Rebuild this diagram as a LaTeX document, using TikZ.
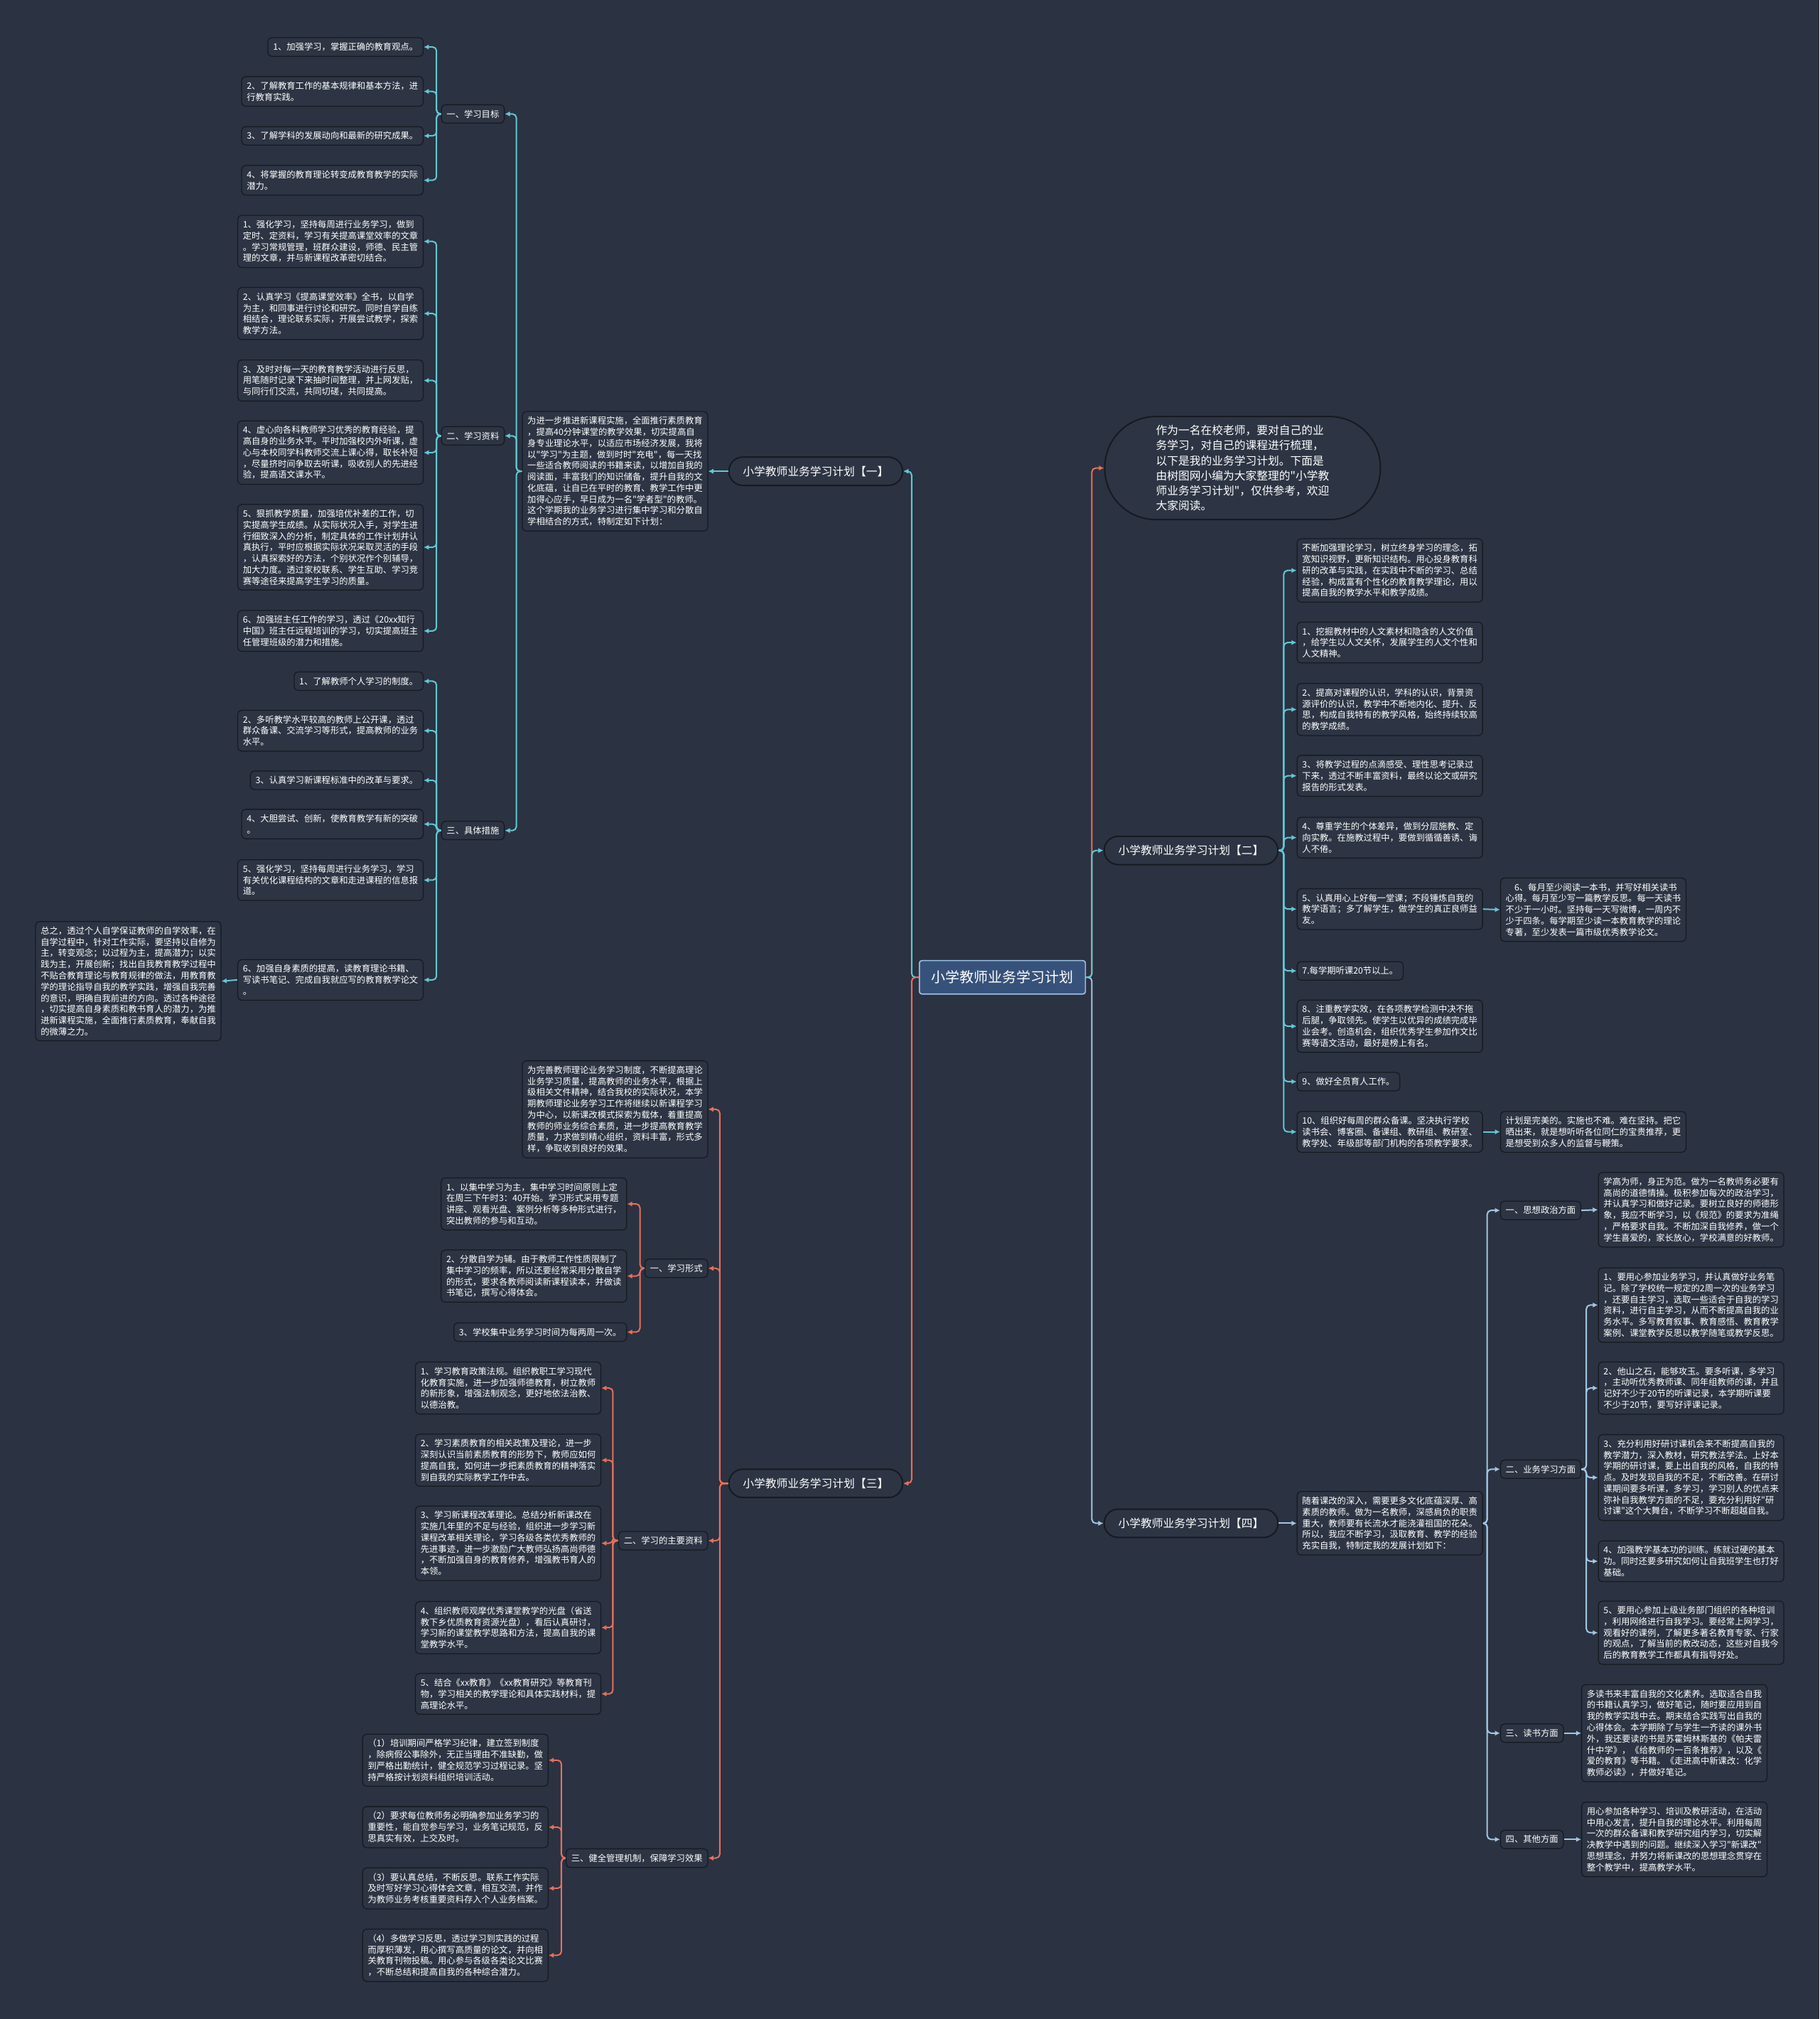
\documentclass[tikz,border=0pt]{standalone}
\usepackage{fontspec}
\setmainfont{Noto Sans CJK SC}[Ligatures=TeXOff]
\usetikzlibrary{arrows.meta}
\definecolor{bg}{HTML}{2B3241}
\definecolor{boxf}{HTML}{2D3544}
\definecolor{bord}{HTML}{161A21}
\definecolor{cyanc}{HTML}{62C8D6}
\definecolor{redc}{HTML}{E6705C}
\definecolor{lbluec}{HTML}{A3C6E4}
\definecolor{ctrf}{HTML}{37527A}
\definecolor{ctrb}{HTML}{9CC2E6}
\tikzset{
 box/.style={draw=bord, fill=boxf, line width=0.7pt, rounded corners=3pt, inner xsep=4pt, inner ysep=4pt, align=left, text=white, font=\fontsize{6.8}{8.7}\selectfont},
 lbox/.style={box, anchor=east},
 rbox/.style={box, anchor=west},
 pill/.style={draw=bord, fill=boxf, line width=1.1pt, rounded corners=11pt, minimum width=135pt, minimum height=22pt, text=white, font=\fontsize{8.7}{10}\selectfont},
 ell/.style={draw=bord, fill=boxf, line width=1.1pt, rounded corners=39.5pt, minimum width=214pt, minimum height=80pt, align=left, text=white, font=\fontsize{8.7}{11.7}\selectfont},
 ctr/.style={draw=ctrb, fill=ctrf, line width=0.9pt, rounded corners=2pt, minimum width=129pt, minimum height=26pt, text=white, font=\fontsize{11}{13}\selectfont},
 conn/.style={line width=1.1pt, rounded corners=3pt, -{Latex[length=4pt,width=4pt]}},
 cy/.style={conn, draw=cyanc},
 rd/.style={conn, draw=redc},
 lb/.style={conn, draw=lbluec}
}
\begin{document}
\begin{tikzpicture}[x=1pt,y=-1pt]
\fill[bg] (0,0) rectangle (1413,1568);
\useasboundingbox (0,0) rectangle (1413,1568);

% ---------- centre ----------
\node[ctr] (ctr) at (778.5,759) {小学教师业务学习计划};
\node[pill] (p1) at (633.5,366) {小学教师业务学习计划【一】};
\node[pill] (p3) at (633.5,1152) {小学教师业务学习计划【三】};
\node[pill] (p2) at (925,660.5) {小学教师业务学习计划【二】};
\node[pill] (p4) at (925,1183) {小学教师业务学习计划【四】};
\node[ell] (ell) at (965,363.5) {作为一名在校老师，要对自己的业\\务学习，对自己的课程进行梳理，\\以下是我的业务学习计划。下面是\\由树图网小编为大家整理的"小学教\\师业务学习计划"，仅供参考，欢迎\\大家阅读。};

% ---------- plan 1 ----------
\node[lbox] (p1i) at (550,366) {为进一步推进新课程实施，全面推行素质教育\\，提高40分钟课堂的教学效果，切实提高自\\身专业理论水平，以适应市场经济发展，我将\\以"学习"为主题，做到时时"充电"，每一天找\\一些适合教师阅读的书籍来读，以增加自我的\\阅读面，丰富我们的知识储备，提升自我的文\\化底蕴，让自已在平时的教育、教学工作中更\\加得心应手，早日成为一名"学者型"的教师。\\这个学期我的业务学习进行集中学习和分散自\\学相结合的方式，特制定如下计划：};
\node[lbox] (s11) at (392,88.5) {一、学习目标};
\node[lbox] (s12) at (392,338.5) {二、学习资料};
\node[lbox] (s13) at (392,645) {三、具体措施};

\node[lbox] (a1) at (329,36.5) {1、加强学习，掌握正确的教育观点。};
\node[lbox] (a2) at (329,71) {2、了解教育工作的基本规律和基本方法，进\\行教育实践。};
\node[lbox] (a3) at (329,105.5) {3、了解学科的发展动向和最新的研究成果。};
\node[lbox] (a4) at (329,140) {4、将掌握的教育理论转变成教育教学的实际\\潜力。};

\node[lbox] (b1) at (329,187.5) {1、强化学习，坚持每周进行业务学习，做到\\定时、定资料，学习有关提高课堂效率的文章\\。学习常规管理，班群众建设，师德、民主管\\理的文章，并与新课程改革密切结合。};
\node[lbox] (b2) at (329,243.5) {2、认真学习《提高课堂效率》全书，以自学\\为主，和同事进行讨论和研究。同时自学自练\\相结合，理论联系实际，开展尝试教学，探索\\教学方法。};
\node[lbox] (b3) at (329,295.5) {3、及时对每一天的教育教学活动进行反思，\\用笔随时记录下来抽时间整理，并上网发贴，\\与同行们交流，共同切磋，共同提高。};
\node[lbox] (b4) at (329,351.5) {4、虚心向各科教师学习优秀的教育经验，提\\高自身的业务水平。平时加强校内外听课，虚\\心与本校同学科教师交流上课心得，取长补短\\，尽量挤时间争取去听课，吸收别人的先进经\\验，提高语文课水平。};
\node[lbox] (b5) at (329,425) {5、狠抓教学质量，加强培优补差的工作，切\\实提高学生成绩。从实际状况入手，对学生进\\行细致深入的分析，制定具体的工作计划并认\\真执行，平时应根据实际状况采取灵活的手段\\，认真探索好的方法，个别状况作个别辅导，\\加大力度。透过家校联系、学生互助、学习竞\\赛等途径来提高学生学习的质量。};
\node[lbox] (b6) at (329,490) {6、加强班主任工作的学习，透过《20xx知行\\中国》班主任远程培训的学习，切实提高班主\\任管理班级的潜力和措施。};

\node[lbox] (c1) at (329,529) {1、了解教师个人学习的制度。};
\node[lbox] (c2) at (329,567.5) {2、多听教学水平较高的教师上公开课，透过\\群众备课、交流学习等形式，提高教师的业务\\水平。};
\node[lbox] (c3) at (329,606) {3、认真学习新课程标准中的改革与要求。};
\node[lbox] (c4) at (329,640) {4、大胆尝试、创新，使教育教学有新的突破\\。};
\node[lbox] (c5) at (329,683.5) {5、强化学习，坚持每周进行业务学习，学习\\有关优化课程结构的文章和走进课程的信息报\\道。};
\node[lbox] (c6) at (329,761) {6、加强自身素质的提高，读教育理论书籍、\\写读书笔记、完成自我就应写的教育教学论文\\。};
\node[lbox] (sum) at (172,762) {总之，透过个人自学保证教师的自学效率，在\\自学过程中，针对工作实际，要坚持以自修为\\主，转变观念；以过程为主，提高潜力；以实\\践为主，开展创新；找出自我教育教学过程中\\不贴合教育理论与教育规律的做法，用教育教\\学的理论指导自我的教学实践，增强自我完善\\的意识，明确自我前进的方向。透过各种途径\\，切实提高自身素质和教书育人的潜力，为推\\进新课程实施，全面推行素质教育，奉献自我\\的微薄之力。};

% ---------- plan 3 ----------
\node[lbox] (p3i) at (550,861.5) {为完善教师理论业务学习制度，不断提高理论\\业务学习质量，提高教师的业务水平，根据上\\级相关文件精神，结合我校的实际状况，本学\\期教师理论业务学习工作将继续以新课程学习\\为中心，以新课改模式探索为载体，着重提高\\教师的师业务综合素质，进一步提高教育教学\\质量，力求做到精心组织，资料丰富，形式多\\样，争取收到良好的效果。};
\node[lbox] (s31) at (550,985) {一、学习形式};
\node[lbox] (s32) at (550,1196.5) {二、学习的主要资料};
\node[lbox] (s33) at (550,1443) {三、健全管理机制，保障学习效果};

\node[lbox] (d1) at (487,935) {1、以集中学习为主，集中学习时间原则上定\\在周三下午时3：40开始。学习形式采用专题\\讲座、观看光盘、案例分析等多种形式进行，\\突出教师的参与和互动。};
\node[lbox] (d2) at (487,991) {2、分散自学为辅。由于教师工作性质限制了\\集中学习的频率，所以还要经常采用分散自学\\的形式，要求各教师阅读新课程读本，并做读\\书笔记，撰写心得体会。};
\node[lbox] (d3) at (487,1034.5) {3、学校集中业务学习时间为每两周一次。};

\node[lbox] (e1) at (467,1078) {1、学习教育政策法规。组织教职工学习现代\\化教育实施，进一步加强师德教育，树立教师\\的新形象，增强法制观念，更好地依法治教、\\以德治教。};
\node[lbox] (e2) at (467,1134) {2、学习素质教育的相关政策及理论，进一步\\深刻认识当前素质教育的形势下，教师应如何\\提高自我，如何进一步把素质教育的精神落实\\到自我的实际教学工作中去。};
\node[lbox] (e3) at (467,1198.5) {3、学习新课程改革理论。总结分析新课改在\\实施几年里的不足与经验，组织进一步学习新\\课程改革相关理论，学习各级各类优秀教师的\\先进事迹，进一步激励广大教师弘扬高尚师德\\，不断加强自身的教育修养，增强教书育人的\\本领。};
\node[lbox] (e4) at (467,1264) {4、组织教师观摩优秀课堂教学的光盘（省送\\教下乡优质教育资源光盘），看后认真研讨，\\学习新的课堂教学思路和方法，提高自我的课\\堂教学水平。};
\node[lbox] (e5) at (467,1315.5) {5、结合《xx教育》《xx教育研究》等教育刊\\物，学习相关的教学理论和具体实践材料，提\\高理论水平。};

\node[lbox] (f1) at (426,1367) {（1）培训期间严格学习纪律，建立签到制度\\，除病假公事除外，无正当理由不准缺勤，做\\到严格出勤统计，健全规范学习过程记录。坚\\持严格按计划资料组织培训活动。};
\node[lbox] (f2) at (426,1419) {（2）要求每位教师务必明确参加业务学习的\\重要性，能自觉参与学习，业务笔记规范，反\\思真实有效，上交及时。};
\node[lbox] (f3) at (426,1466.5) {（3）要认真总结，不断反思。联系工作实际\\及时写好学习心得体会文章，相互交流，并作\\为教师业务考核重要资料存入个人业务档案。};
\node[lbox] (f4) at (426,1518.5) {（4）多做学习反思，透过学习到实践的过程\\而厚积薄发，用心撰写高质量的论文，并向相\\关教育刊物投稿。用心参与各级各类论文比赛\\，不断总结和提高自我的各种综合潜力。};

% ---------- plan 2 ----------
\node[rbox] (ga) at (1007,443) {不断加强理论学习，树立终身学习的理念，拓\\宽知识视野，更新知识结构。用心投身教育科\\研的改革与实践，在实践中不断的学习、总结\\经验，构成富有个性化的教育教学理论，用以\\提高自我的教学水平和教学成绩。};
\node[rbox] (gb) at (1007,499) {1、挖掘教材中的人文素材和隐含的人文价值\\，给学生以人文关怀，发展学生的人文个性和\\人文精神。};
\node[rbox] (gc) at (1007,551) {2、提高对课程的认识，学科的认识，背景资\\源评价的认识，教学中不断地内化、提升、反\\思，构成自我特有的教学风格，始终持续较高\\的教学成绩。};
\node[rbox] (gd) at (1007,602.5) {3、将教学过程的点滴感受、理性思考记录过\\下来，透过不断丰富资料，最终以论文或研究\\报告的形式发表。};
\node[rbox] (ge) at (1007,650.5) {4、尊重学生的个体差异，做到分层施教、定\\向实教。在施教过程中，要做到循循善诱、诲\\人不倦。};
\node[rbox] (gf) at (1007,706) {5、认真用心上好每一堂课；不段锤炼自我的\\教学语言；多了解学生，做学生的真正良师益\\友。};
\node[rbox] (gg) at (1007,754) {7.每学期听课20节以上。};
\node[rbox] (gh) at (1007,797) {8、注重教学实效，在各项教学检测中决不拖\\后腿，争取领先。使学生以优异的成绩完成毕\\业会考。创造机会，组织优秀学生参加作文比\\赛等语文活动，最好是榜上有名。};
\node[rbox] (gi) at (1007,840) {9、做好全员育人工作。};
\node[rbox] (gj) at (1007,879) {10、组织好每周的群众备课。坚决执行学校\\读书会、博客圈、备课组、教研组、教研室、\\教学处、年级部等部门机构的各项教学要求。};
\node[rbox] (g6) at (1165,706.5) {\hspace*{1em}6、每月至少阅读一本书，并写好相关读书\\心得。每月至少写一篇教学反思。每一天读书\\不少于一小时。坚持每一天写微博，一周内不\\少于四条。每学期至少读一本教育教学的理论\\专著，至少发表一篇市级优秀教学论文。};
\node[rbox] (gk) at (1165,879) {计划是完美的。实施也不难。难在坚持。把它\\晒出来，就是想听听各位同仁的宝贵推荐，更\\是想受到众多人的监督与鞭策。};

% ---------- plan 4 ----------
\node[rbox] (p4i) at (1007,1183) {随着课改的深入，需要更多文化底蕴深厚、高\\素质的教师。做为一名教师，深感肩负的职责\\重大，教师要有长流水才能浇灌祖国的花朵。\\所以，我应不断学习，汲取教育、教学的经验\\充实自我，特制定我的发展计划如下：};
\node[rbox] (s41) at (1165,940) {一、思想政治方面};
\node[rbox] (s42) at (1165,1141) {二、业务学习方面};
\node[rbox] (s43) at (1165,1346) {三、读书方面};
\node[rbox] (s44) at (1165,1428.5) {四、其他方面};
\node[rbox] (h1) at (1241,939.5) {学高为师，身正为范。做为一名教师务必要有\\高尚的道德情操。极积参加每次的政治学习，\\并认真学习和做好记录。要树立良好的师德形\\象，我应不断学习，以《规范》的要求为准绳\\，严格要求自我。不断加深自我修养，做一个\\学生喜爱的，家长放心，学校满意的好教师。};
\node[rbox] (k1) at (1241,1013.5) {1、要用心参加业务学习，并认真做好业务笔\\记。除了学校统一规定的2周一次的业务学习\\，还要自主学习，选取一些适合于自我的学习\\资料，进行自主学习，从而不断提高自我的业\\务水平。多写教育叙事、教育感悟、教育教学\\案例、课堂教学反思以教学随笔或教学反思。};
\node[rbox] (k2) at (1241,1078) {2、他山之石，能够攻玉。要多听课，多学习\\，主动听优秀教师课、同年组教师的课，并且\\记好不少于20节的听课记录，本学期听课要\\不少于20节，要写好评课记录。};
\node[rbox] (k3) at (1241,1147.5) {3、充分利用好研讨课机会来不断提高自我的\\教学潜力，深入教材，研究教法学法。上好本\\学期的研讨课，要上出自我的风格，自我的特\\点。及时发现自我的不足，不断改善。在研讨\\课期间要多听课，多学习，学习别人的优点来\\弥补自我教学方面的不足，要充分利用好"研\\讨课"这个大舞台，不断学习不断超越自我。};
\node[rbox] (k4) at (1241,1212.5) {4、加强教学基本功的训练。练就过硬的基本\\功。同时还要多研究如何让自我班学生也打好\\基础。};
\node[rbox] (k5) at (1241,1268) {5、要用心参加上级业务部门组织的各种培训\\，利用网络进行自我学习。要经常上网学习，\\观看好的课例，了解更多著名教育专家、行家\\的观点，了解当前的教改动态，这些对自我今\\后的教育教学工作都具有指导好处。};
\node[rbox] (h3) at (1228,1346) {多读书来丰富自我的文化素养。选取适合自我\\的书籍认真学习，做好笔记，随时要应用到自\\我的教学实践中去。期末结合实践写出自我的\\心得体会。本学期除了与学生一齐读的课外书\\外，我还要读的书是苏霍姆林斯基的《帕夫雷\\什中学》，《给教师的一百条推荐》，以及《\\爱的教育》等书籍。《走进高中新课改：化学\\教师必读》，并做好笔记。};
\node[rbox] (h4) at (1228,1428.5) {用心参加各种学习、培训及教研活动，在活动\\中用心发言，提升自我的理论水平。利用每周\\一次的群众备课和教学研究组内学习，切实解\\决教学中遇到的问题。继续深入学习"新课改"\\思想理念，并努力将新课改的思想理念贯穿在\\整个教学中，提高教学水平。};

% ---------- connectors ----------
\coordinate (tL) at (708,0);
\coordinate (tR) at (848,0);
\draw[cy] (ctr.west) -- (ctr.west -| tL) |- (p1.east);
\draw[rd] (ctr.west) -- (ctr.west -| tL) |- (p3.east);
\draw[rd] (ctr.east) -- (ctr.east -| tR) |- (ell.west);
\draw[lb] (ctr.east) -- (ctr.east -| tR) |- (p4.west);
\draw[cy] (ctr.east) -- (ctr.east -| tR) |- (p2.west);

% plan 1
\draw[cy] (p1.west) -- (p1i.east);
\coordinate (t1) at (401,0);
\foreach \s in {s11,s12,s13} \draw[cy] (p1i.west) -- (p1i.west -| t1) |- (\s.east);
\coordinate (t1s) at (339,0);
\foreach \c in {a1,a2,a3,a4} \draw[cy] (s11.west) -- (s11.west -| t1s) |- (\c.east);
\foreach \c in {b1,b2,b3,b4,b5,b6} \draw[cy] (s12.west) -- (s12.west -| t1s) |- (\c.east);
\foreach \c in {c1,c2,c3,c4,c5,c6} \draw[cy] (s13.west) -- (s13.west -| t1s) |- (\c.east);
\draw[cy] (c6.west) -- (sum.east);

% plan 3
\coordinate (t3) at (559,0);
\foreach \s in {p3i,s31,s32,s33} \draw[rd] (p3.west) -- (p3.west -| t3) |- (\s.east);
\coordinate (t3a) at (497,0);
\foreach \c in {d1,d2,d3} \draw[rd] (s31.west) -- (s31.west -| t3a) |- (\c.east);
\coordinate (t3b) at (476,0);
\foreach \c in {e1,e2,e3,e4,e5} \draw[rd] (s32.west) -- (s32.west -| t3b) |- (\c.east);
\coordinate (t3c) at (436,0);
\foreach \c in {f1,f2,f3,f4} \draw[rd] (s33.west) -- (s33.west -| t3c) |- (\c.east);

% plan 2
\coordinate (t2) at (997,0);
\foreach \c in {ga,gb,gc,gd,ge,gf,gg,gh,gi,gj} \draw[cy] (p2.east) -- (p2.east -| t2) |- (\c.west);
\draw[cy] (gf.east) -- (g6.west);
\draw[cy] (gj.east) -- (gk.west);

% plan 4
\draw[lb] (p4.east) -- (p4i.west);
\coordinate (t4) at (1155,0);
\foreach \s in {s41,s42,s43,s44} \draw[lb] (p4i.east) -- (p4i.east -| t4) |- (\s.west);
\draw[lb] (s41.east) -- (h1.west);
\coordinate (t4b) at (1232,0);
\foreach \c in {k1,k2,k3,k4,k5} \draw[lb] (s42.east) -- (s42.east -| t4b) |- (\c.west);
\draw[lb] (s43.east) -- (h3.west);
\draw[lb] (s44.east) -- (h4.west);
\end{tikzpicture}
\end{document}
